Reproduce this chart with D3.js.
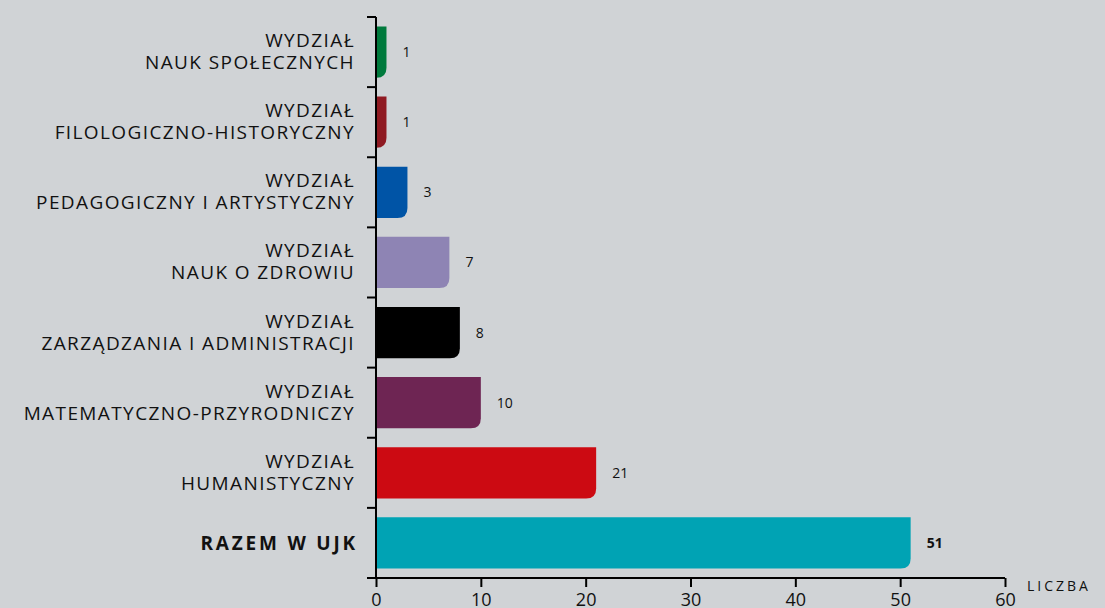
<!DOCTYPE html>
<html>
<head>
<meta charset="utf-8">
<script src="https://cdn.jsdelivr.net/npm/d3@7"></script>
<style>
  body { margin: 0; background: #d0d3d6; }
  svg { display: block; font-family: "Open Sans", sans-serif; }
</style>
</head>
<body>
<svg id="diagram" width="1105" height="608"></svg>
<script>
// dane
var wydzialy = [
  ["WYDZIAŁ", "NAUK SPOŁECZNYCH"],
  ["WYDZIAŁ", "FILOLOGICZNO-HISTORYCZNY"],
  ["WYDZIAŁ", "PEDAGOGICZNY I ARTYSTYCZNY"],
  ["WYDZIAŁ", "NAUK O ZDROWIU"],
  ["WYDZIAŁ", "ZARZĄDZANIA I ADMINISTRACJI"],
  ["WYDZIAŁ", "MATEMATYCZNO-PRZYRODNICZY"],
  ["WYDZIAŁ", "HUMANISTYCZNY"],
  ["RAZEM W UJK"]
];
var liczby = [1, 1, 3, 7, 8, 10, 21, 51];
var kolory = ["#007a3d", "#8f1a22", "#0054a6", "#8e84b4", "#000000", "#6e2553", "#cc0a12", "#00a3b4"];
var xTicks = [0, 10, 20, 30, 40, 50, 60];

var svg = d3.select("#diagram");
var mLeft = 376, mRight = 1005, mTop = 17, mBottom = 578;

var x = d3.scaleLinear().domain([0, 60]).range([mLeft, mRight]);
var idx = d3.range(liczby.length);
var y = d3.scaleBand().domain(idx).range([mTop, mBottom]).paddingInner(0.27).paddingOuter(0.135);

// slupki - zaokraglony dolny prawy rog
var r = 10;
function barPath(i) {
  var x0 = x(0), x1 = x(liczby[i]), y0 = y(i), h = y.bandwidth();
  var rr = Math.min(r, x1 - x0);
  return "M" + x0 + "," + y0 + "H" + x1 + "V" + (y0 + h - rr) +
    "Q" + x1 + "," + (y0 + h) + " " + (x1 - rr) + "," + (y0 + h) +
    "H" + x0 + "Z";
}
svg.selectAll(".bar")
  .data(idx)
  .enter().append("path")
  .attr("class", "bar")
  .attr("d", barPath)
  .style("fill", function (i) { return kolory[i]; });

// wartosci
svg.selectAll(".val")
  .data(idx)
  .enter().append("text")
  .attr("class", "val")
  .attr("x", function (i) { return x(liczby[i]) + 16; })
  .attr("y", function (i) { return y(i) + y.bandwidth() / 2 + 5; })
  .attr("font-size", 14)
  .attr("font-weight", function (i) { return i === liczby.length - 1 ? "bold" : "normal"; })
  .attr("fill", "#111")
  .text(function (i) { return liczby[i]; });

// etykiety kategorii
var band = (mBottom - mTop) / liczby.length;
svg.selectAll(".cat")
  .data(idx)
  .enter().append("text")
  .attr("class", "cat")
  .attr("text-anchor", "end")
  .attr("font-size", 19)
  .attr("fill", "#111")
  .each(function (i) {
    var t = d3.select(this);
    var c = mTop + band * (i + 0.5);
    var lines = wydzialy[i];
    if (lines.length === 1) {
      t.attr("font-weight", "bold").style("letter-spacing", "2.8px");
      t.append("tspan").attr("x", 358).attr("y", c + 7).text(lines[0]);
    } else {
      t.style("letter-spacing", "1.4px");
      t.append("tspan").attr("x", 355).attr("y", c - 5).text(lines[0]);
      t.append("tspan").attr("x", 355).attr("y", c + 17).text(lines[1]);
    }
  });

// os Y
svg.append("line")
  .attr("x1", mLeft).attr("x2", mLeft).attr("y1", mTop).attr("y2", mBottom + 1)
  .attr("stroke", "#000").attr("stroke-width", 2);
var yTicks = d3.range(liczby.length + 1);
svg.selectAll(".ytick")
  .data(yTicks)
  .enter().append("line")
  .attr("x1", mLeft - 9).attr("x2", mLeft)
  .attr("y1", function (k) { return mTop + band * k; })
  .attr("y2", function (k) { return mTop + band * k; })
  .attr("stroke", "#000").attr("stroke-width", 2);

// os X
var xAxis = svg.append("g")
  .attr("transform", "translate(0," + mBottom + ")")
  .call(d3.axisBottom(x).tickValues(xTicks).tickSize(9).tickPadding(6).tickSizeOuter(0));
xAxis.select(".domain").attr("stroke-width", 2).attr("d", "M" + (mLeft - 9) + ",0H" + mRight);
xAxis.selectAll(".tick line").attr("stroke-width", 2);
xAxis.selectAll(".tick text")
  .attr("font-size", 18)
  .attr("font-family", "Open Sans, sans-serif")
  .attr("fill", "#111");

svg.append("text")
  .attr("x", 1027).attr("y", 591)
  .attr("font-size", 14)
  .style("letter-spacing", "3px")
  .attr("fill", "#111")
  .text("LICZBA");
</script>
</body>
</html>
